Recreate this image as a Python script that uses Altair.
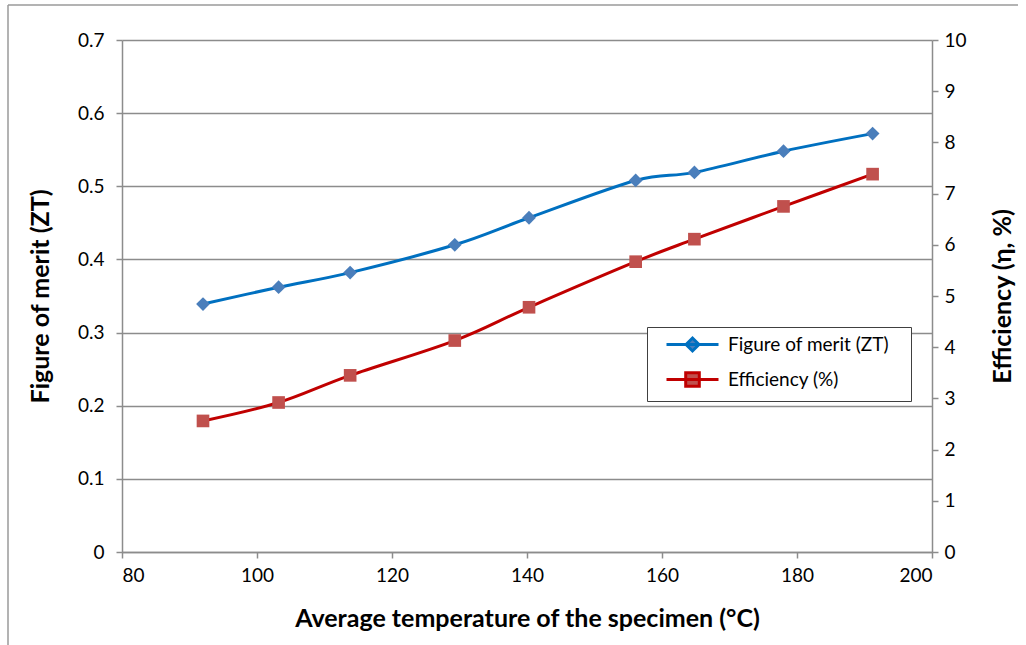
import altair as alt
import pandas as pd

temps = [92.0, 103.2, 113.8, 129.3, 140.3, 156.1, 164.8, 178.0, 191.2]
zt = [0.339, 0.362, 0.382, 0.420, 0.457, 0.508, 0.519, 0.548, 0.572]
eff = [2.56, 2.92, 3.45, 4.13, 4.78, 5.67, 6.11, 6.75, 7.38]

series = ["Figure of merit (ZT)", "Efficiency (%)"]
line_colors = ["#0070C0", "#C00000"]
marker_colors = ["#4A7EBB", "#C0504D"]
legend_paths = [
    "M-3.25,0H3.25M-0.81,0L0,-0.81L0.81,0L0,0.81Z",
    "M-3.25,0H3.25M-0.85,-0.85H0.85V0.85H-0.85Z",
]

BLANK = "\u2800"
legend_labels = [s + BLANK for s in series]

df = pd.DataFrame({"temp": temps, "zt": zt, "eff": eff})
leg_df = pd.DataFrame({"series": legend_labels})
frame_df = pd.DataFrame({"k": [0]})

FONT = "Lato"
GRID = "#8C8C8C"

x_enc = alt.X(
    "temp:Q",
    scale=alt.Scale(domain=[80, 200], nice=False),
    axis=alt.Axis(
        values=[80, 100, 120, 140, 160, 180, 200],
        title="Average temperature of the specimen (°C)",
        grid=False, domainColor=GRID, domainWidth=1.5, tickColor=GRID,
        tickWidth=1.5, tickSize=6, labelPadding=8, titlePadding=21,
    ),
)

y_left = alt.Y(
    "zt:Q",
    scale=alt.Scale(domain=[0, 0.7], nice=False),
    axis=alt.Axis(
        values=[0, 0.1, 0.2, 0.3, 0.4, 0.5, 0.6, 0.7], format=".1~f",
        title="Figure of merit (ZT)", grid=True, gridColor=GRID, gridWidth=1.5,
        domainColor=GRID, domainWidth=1.5, tickColor=GRID, tickWidth=1.5,
        tickSize=6, labelPadding=12, titlePadding=24,
    ),
)

y_right = alt.Y(
    "eff:Q",
    scale=alt.Scale(domain=[0, 10], nice=False),
    axis=alt.Axis(
        orient="right", values=list(range(0, 11)),
        title="Efficiency (η, %)", titleAngle=270, grid=False,
        domainColor=GRID, domainWidth=1.5, tickColor=GRID, tickWidth=1.5,
        tickSize=6, labelPadding=6, titlePadding=49,
    ),
)

base = alt.Chart(df)

zt_line = base.mark_line(color=line_colors[0], strokeWidth=3, interpolate="cardinal").encode(x=x_enc, y=y_left)
zt_pts = base.mark_point(shape="diamond", filled=True, size=190, color=marker_colors[0], opacity=1).encode(x="temp:Q", y="zt:Q")

eff_line = base.mark_line(color=line_colors[1], strokeWidth=3, interpolate="cardinal").encode(x="temp:Q", y=y_right)
eff_pts = base.mark_point(shape="square", filled=True, size=160, color=marker_colors[1], opacity=1).encode(x="temp:Q", y="eff:Q")

legend_layer = alt.Chart(leg_df).transform_filter("false").mark_point(
    filled=True, strokeWidth=3, opacity=1
).encode(
    x=alt.X("temp:Q"),
    fill=alt.Fill("series:N", scale=alt.Scale(domain=legend_labels, range=marker_colors), legend=alt.Legend(title=None)),
    stroke=alt.Stroke("series:N", scale=alt.Scale(domain=legend_labels, range=line_colors), legend=alt.Legend(title=None)),
    shape=alt.Shape("series:N", scale=alt.Scale(domain=legend_labels, range=legend_paths), legend=alt.Legend(title=None)),
)

frame_left = alt.Chart(frame_df).mark_rule(color="#9A9A9A", strokeWidth=1.5).encode(
    x=alt.value(-114), y=alt.value(-35), y2=alt.value(610)
)
frame_top = alt.Chart(frame_df).mark_rule(color="#9A9A9A", strokeWidth=1.5).encode(
    x=alt.value(-114), x2=alt.value(896), y=alt.value(-35)
)

left = alt.layer(zt_line, zt_pts)
right = alt.layer(eff_line, eff_pts, legend_layer)

chart = alt.layer(left, right, frame_left, frame_top).resolve_scale(y="independent").properties(
    width=810, height=512,
    padding={"left": 122, "top": 40, "right": 94, "bottom": 93},
    autosize=alt.AutoSizeParams(type="none"),
).configure_view(stroke=None).configure_axis(
    labelFont=FONT, labelFontSize=19, labelColor="#000000",
    titleFont=FONT, titleFontSize=25, titleFontWeight="bold", titleColor="#000000",
).configure_legend(
    orient="none", legendX=525, legendY=287, symbolSize=256, symbolStrokeWidth=3,
    symbolOffset=28, labelOffset=26,
    labelFont=FONT, labelFontSize=19, labelColor="#000000",
    padding=8, rowPadding=9, strokeColor="#404040", fillColor="#FFFFFF",
    labelLimit=400,
)

chart.save("out.html", embed_options={"renderer": "svg", "actions": False})
